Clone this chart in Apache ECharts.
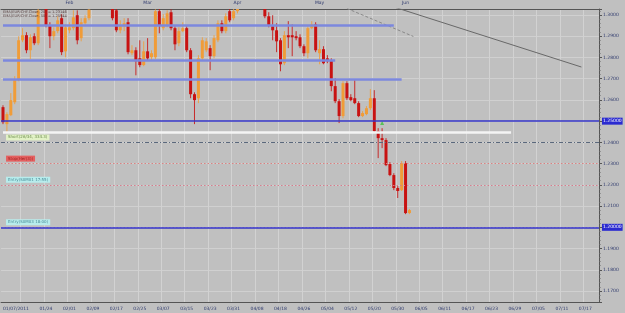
<!DOCTYPE html>
<html><head><meta charset="utf-8">
<script src="https://cdn.jsdelivr.net/npm/echarts@6/dist/echarts.min.js"></script>
<style>html,body{margin:0;padding:0;background:#c0c0c0}#c{width:625px;height:313px}</style>
</head><body><div id="c"></div>
<script>
// ---- data (EUR/CHF daily, from 2011-01-07) ----
const opens = [1.2566,1.2486,1.2528,1.2589,1.2693,1.2881,1.2905,1.2834,1.2900,1.2867,
1.3040,1.3045,1.2952,1.2900,1.2924,1.2985,1.2829,1.2928,1.2938,1.2999,
1.2891,1.2961,1.2985,1.3035,1.3070,1.3110,1.3090,1.3120,1.3050,1.3022,
1.2928,1.2947,1.2966,1.2820,1.2834,1.2796,1.2764,1.2829,1.2801,1.2801,
1.3018,1.2938,1.2952,1.3013,1.2938,1.2867,1.2924,1.2938,1.2834,1.2627,
1.2608,1.2796,1.2834,1.2844,1.2806,1.2881,1.2961,1.2924,1.3018,1.2985,
1.3018,1.3040,1.3075,1.3110,1.3150,1.3120,1.3090,1.3045,1.2994,1.2947,
1.2928,1.2881,1.2773,1.2905,1.2905,1.2900,1.2895,1.2853,1.2820,1.2938,
1.2956,1.2820,1.2839,1.2796,1.2787,1.2665,1.2594,1.2524,1.2679,1.2613,
1.2608,1.2585,1.2524,1.2533,1.2561,1.2608,1.2453,1.2420,1.2411,1.2298,
1.2246,1.2185,1.2175,1.2302,1.2067];
const closes = [1.2495,1.2533,1.2599,1.2693,1.2881,1.2905,1.2834,1.2895,1.2867,1.3022,
1.3065,1.2952,1.2900,1.2924,1.2975,1.2825,1.2942,1.2942,1.2989,1.2881,
1.2966,1.2985,1.3025,1.3070,1.3110,1.3090,1.3120,1.3060,1.2985,1.2928,
1.2952,1.2961,1.2825,1.2834,1.2782,1.2764,1.2829,1.2796,1.2820,1.3018,
1.2952,1.2985,1.3008,1.2938,1.2862,1.2924,1.2938,1.2834,1.2627,1.2599,
1.2796,1.2881,1.2876,1.2806,1.2891,1.2961,1.2924,1.2994,1.2975,1.3018,
1.3040,1.3075,1.3110,1.3150,1.3120,1.3090,1.3050,1.2994,1.2952,1.2928,
1.2876,1.2768,1.2905,1.2895,1.2895,1.2891,1.2853,1.2820,1.2938,1.2956,
1.2834,1.2839,1.2773,1.2782,1.2665,1.2594,1.2524,1.2679,1.2608,1.2599,
1.2585,1.2524,1.2538,1.2561,1.2608,1.2453,1.2420,1.2411,1.2293,1.2246,
1.2185,1.2171,1.2302,1.2067,1.2081];
const lows = [1.2486,1.2444,1.2524,1.2580,1.2688,1.2872,1.2820,1.2792,1.2858,1.2858,
1.3035,1.2942,1.2844,1.2881,1.2914,1.2811,1.2801,1.2914,1.2928,1.2862,
1.2876,1.2947,1.2975,1.3032,1.3055,1.3070,1.3075,1.3045,1.2975,1.2919,
1.2914,1.2924,1.2815,1.2811,1.2716,1.2754,1.2759,1.2787,1.2787,1.2792,
1.2914,1.2928,1.2942,1.2928,1.2834,1.2853,1.2919,1.2825,1.2608,1.2486,
1.2585,1.2787,1.2825,1.2740,1.2796,1.2872,1.2914,1.2914,1.2966,1.2975,
1.3008,1.3032,1.3060,1.3095,1.3105,1.3070,1.3035,1.2985,1.2942,1.2881,
1.2825,1.2735,1.2764,1.2844,1.2806,1.2881,1.2844,1.2806,1.2796,1.2933,
1.2825,1.2768,1.2768,1.2773,1.2641,1.2585,1.2491,1.2514,1.2599,1.2594,
1.2580,1.2519,1.2519,1.2528,1.2552,1.2448,1.2326,1.2373,1.2288,1.2241,
1.2175,1.2138,1.2171,1.2062,1.2062];
const highs = [1.2575,1.2542,1.2632,1.2712,1.2900,1.2938,1.2919,1.2909,1.2914,1.3032,
1.3090,1.3070,1.2966,1.2942,1.2994,1.3004,1.2956,1.2966,1.3022,1.3022,
1.2985,1.2999,1.3040,1.3085,1.3130,1.3125,1.3140,1.3130,1.3065,1.3032,
1.2975,1.2985,1.2985,1.2858,1.2848,1.2881,1.2876,1.2891,1.2834,1.3027,
1.3032,1.3004,1.3022,1.3027,1.2947,1.2942,1.2966,1.2947,1.2844,1.2636,
1.2811,1.2895,1.2891,1.2858,1.2905,1.2975,1.2975,1.3008,1.3032,1.3032,
1.3060,1.3090,1.3125,1.3170,1.3165,1.3135,1.3100,1.3060,1.3013,1.2999,
1.2961,1.2891,1.2924,1.2971,1.2956,1.2924,1.2909,1.2862,1.2947,1.2971,
1.2966,1.2881,1.2853,1.2811,1.2796,1.2702,1.2604,1.2688,1.2688,1.2627,
1.2693,1.2594,1.2547,1.2571,1.2651,1.2646,1.2467,1.2467,1.2420,1.2307,
1.2255,1.2194,1.2312,1.2312,1.2086];

const legendLines = ['EMA(EUR/CHF.Close, 20) = 1.23146', 'EMA(EUR/CHF.Close, 50) = 1.25944'];
const bottomLabelIdx = [0,11,17,23,29,35,41,47,53,59,65,71,77,83,89,95,101,107,113,119,125,131,137,143,149];
const bottomLabels = ['01/07/2011','01/24','02/01','02/09','02/17','02/25','03/07','03/15','03/23','03/31','04/08','04/18','04/26','05/04','05/12','05/20','05/30','06/05','06/11','06/17','06/23','06/29','07/05','07/11','07/17'];
const monthIdx = [17,37,60,81,103];
const monthLabels = ['Feb','Mar','Apr','May','Jun'];

// horizontal levels
const zoneLevels = [1.2952, 1.2785, 1.2696];   // blue zone lines
const zoneEnds = [100, 85, 102];
const whiteLevel = 1.2447, whiteEnd = 130;
const roundLevels = [1.2500, 1.2000];
const roundLabels = ['1.25000', '1.20000'];
const shortLevel = 1.2395, shortText = 'Short(26/34, 334.3)';
const stopLevel = 1.2325, stopText = 'Stop(Her(3))';
const entryLevels = [1.2160, 1.2011];
const entryTexts = ['Entry(S0M01 17:55)', 'Entry(S0M03 18:00)'];
const lastPrice = 1.2081, lastText = '1.20784';
const trend1 = [[100, 1.3038], [148, 1.2755]];
const trend2 = [[88, 1.3031], [105, 1.2899]];
const signal = [[97, 1.2491]];

// ---- build ----
const nSlots = 153;
const cats = [];
let d = new Date(Date.UTC(2011, 0, 7));
while (cats.length < nSlots) {
  const wd = d.getUTCDay();
  if (wd !== 0 && wd !== 6) cats.push(d.toISOString().slice(0, 10));
  d = new Date(d.getTime() + 86400000);
}
const candles = opens.map((o, i) => [i, o, closes[i], lows[i], highs[i]]);
const bottomMap = {}; bottomLabelIdx.forEach((k, i) => bottomMap[k] = bottomLabels[i]);
const monthMap = {}; monthIdx.forEach((k, i) => monthMap[k] = monthLabels[i]);
const isMajor = (i) => i >= 5 && (i - 5) % 6 === 0;
const UP = '#f09c38', DOWN = '#c81212';

function renderCandle(params, api) {
  const xi = api.value(0);
  const o = api.coord([xi, api.value(1)]);
  const c = api.coord([xi, api.value(2)]);
  const l = api.coord([xi, api.value(3)]);
  const h = api.coord([xi, api.value(4)]);
  const cs = params.coordSys;
  const col = api.value(2) >= api.value(1) ? UP : DOWN;
  const w = 3;
  const children = [];
  const y1 = Math.max(h[1], cs.y), y2 = Math.min(l[1], cs.y + cs.height);
  if (y2 > y1) children.push({type: 'line', shape: {x1: o[0], y1: y1, x2: o[0], y2: y2}, style: {stroke: col, lineWidth: 1, opacity: 0.85}});
  const top = Math.min(o[1], c[1]);
  const ht = Math.max(Math.abs(o[1] - c[1]), 1);
  const rect = echarts.graphic.clipRectByRect({x: o[0] - w / 2, y: top, width: w, height: ht},
    {x: cs.x, y: cs.y, width: cs.width, height: cs.height});
  if (rect) children.push({type: 'rect', shape: rect, style: {fill: col}});
  return {type: 'group', children: children};
}

const txt = {fontFamily: 'DejaVu Sans', fontSize: 4.5, color: '#2f3a6e'};
const boxLabel = (text, bg, fg) => ({show: true, position: 'insideStartTop', formatter: text, distance: [5, 2],
  backgroundColor: bg, color: fg, fontSize: 4, fontFamily: 'DejaVu Sans', padding: [1, 2]});
const endLabel = (text, bg, fg) => ({show: true, position: 'end', formatter: text, distance: 3,
  backgroundColor: bg, color: fg, fontSize: 4.5, fontFamily: 'DejaVu Sans', padding: [1, 1]});

const markData = [];
zoneLevels.forEach((v, i) => markData.push([{coord: [0, v], lineStyle: {color: '#7c88de', width: 2.5, type: 'solid'}}, {coord: [zoneEnds[i], v]}]));
markData.push([{coord: [0, whiteLevel], lineStyle: {color: '#f4f4f4', width: 2.5, type: 'solid'}}, {coord: [whiteEnd, whiteLevel]}]);
markData.push({yAxis: shortLevel, lineStyle: {color: '#5a687c', width: 1, type: [4, 2, 1, 2]}, label: boxLabel(shortText, '#e2f2c6', '#6a8a4a')});
markData.push({yAxis: stopLevel, lineStyle: {color: '#d98080', width: 1, type: [1.5, 2]}, label: boxLabel(stopText, '#e46060', '#a02020')});
entryLevels.forEach((v, i) => markData.push({yAxis: v, lineStyle: {color: i ? '#b090dc' : '#d47c8c', width: 1, type: [1.5, 2]}, label: boxLabel(entryTexts[i], '#b8ecec', '#4a8c98')}));
roundLevels.forEach((v, i) => markData.push({yAxis: v, lineStyle: {color: '#3434c8', width: 1.5, type: 'solid'}, label: endLabel(roundLabels[i], '#2a2ad0', '#ffffff')}));
markData.push({yAxis: lastPrice, lineStyle: {opacity: 0}, label: endLabel(lastText, '#86d8f2', '#1a3a7a')});

const chart = echarts.init(document.getElementById('c'), null, {renderer: 'canvas'});
chart.setOption({
  backgroundColor: '#c0c0c0',
  animation: false,
  grid: {left: 0, right: 26, top: 9, bottom: 11},
  xAxis: [
    {type: 'category', data: cats, position: 'bottom', boundaryGap: true,
     axisLine: {lineStyle: {color: '#555', width: 1}},
     axisTick: {alignWithLabel: true, interval: (i) => isMajor(i), length: 4, lineStyle: {color: '#555'}},
     axisLabel: Object.assign({interval: (i) => bottomMap[i] !== undefined, formatter: (v, i) => bottomMap[i] || '', margin: 4, alignMinLabel: 'left'}, txt),
     splitLine: {show: true, interval: (i) => isMajor(i), lineStyle: {color: '#d2d2d2', width: 1}}},
    {type: 'category', data: cats, position: 'bottom', boundaryGap: true,
     axisLine: {show: false}, axisTick: {alignWithLabel: true, interval: 0, length: 2, lineStyle: {color: '#666'}},
     axisLabel: {show: false}, splitLine: {show: false}},
    {type: 'category', data: cats, position: 'top', boundaryGap: true,
     axisLine: {show: false},
     axisTick: {alignWithLabel: true, interval: (i) => monthMap[i] !== undefined, length: 3, lineStyle: {color: '#e8982e', width: 2}},
     axisLabel: Object.assign({interval: (i) => monthMap[i] !== undefined, formatter: (v, i) => monthMap[i] || '', margin: 4}, txt),
     splitLine: {show: false}},
    {type: 'category', data: cats, position: 'top', boundaryGap: true,
     axisLine: {lineStyle: {color: '#555', width: 1}},
     axisTick: {alignWithLabel: true, interval: 3, length: 3, lineStyle: {color: '#777'}},
     axisLabel: {show: false}, splitLine: {show: false}}
  ],
  yAxis: {type: 'value', position: 'right', min: 1.16482, max: 1.30283, splitNumber: 14,
    axisLine: {show: true, lineStyle: {color: '#555'}},
    axisTick: {show: true, length: 3, lineStyle: {color: '#555'}},
    minorTick: {show: true, splitNumber: 5, length: 1.5, lineStyle: {color: '#666'}},
    axisLabel: Object.assign({formatter: (v) => v.toFixed(4), margin: 4, showMinLabel: false, showMaxLabel: false}, txt),
    splitLine: {show: true, lineStyle: {color: '#d0d0d0', width: 1}}},
  graphic: legendLines.map((t, i) => ({type: 'text', left: 3, top: 10 + i * 4.3, z: 100,
    style: {text: t, fontSize: 3.6, fontFamily: 'DejaVu Sans', fill: '#5a4444'}})),
  series: [
    {type: 'custom', data: candles, renderItem: renderCandle, clip: true,
     encode: {x: 0, y: [1, 2, 3, 4]},
     markLine: {silent: true, symbol: ['none', 'none'], animation: false, label: {show: false}, data: markData}},
    {type: 'line', data: trend1, symbol: 'none', clip: true, lineStyle: {color: '#686868', width: 1}},
    {type: 'line', data: trend2, symbol: 'none', clip: true, lineStyle: {color: '#888', width: 1, type: [3, 2]}},
    {type: 'scatter', data: signal, symbol: 'triangle', symbolSize: 4, itemStyle: {color: '#3cc03c'}}
  ]
});
</script></body></html>
